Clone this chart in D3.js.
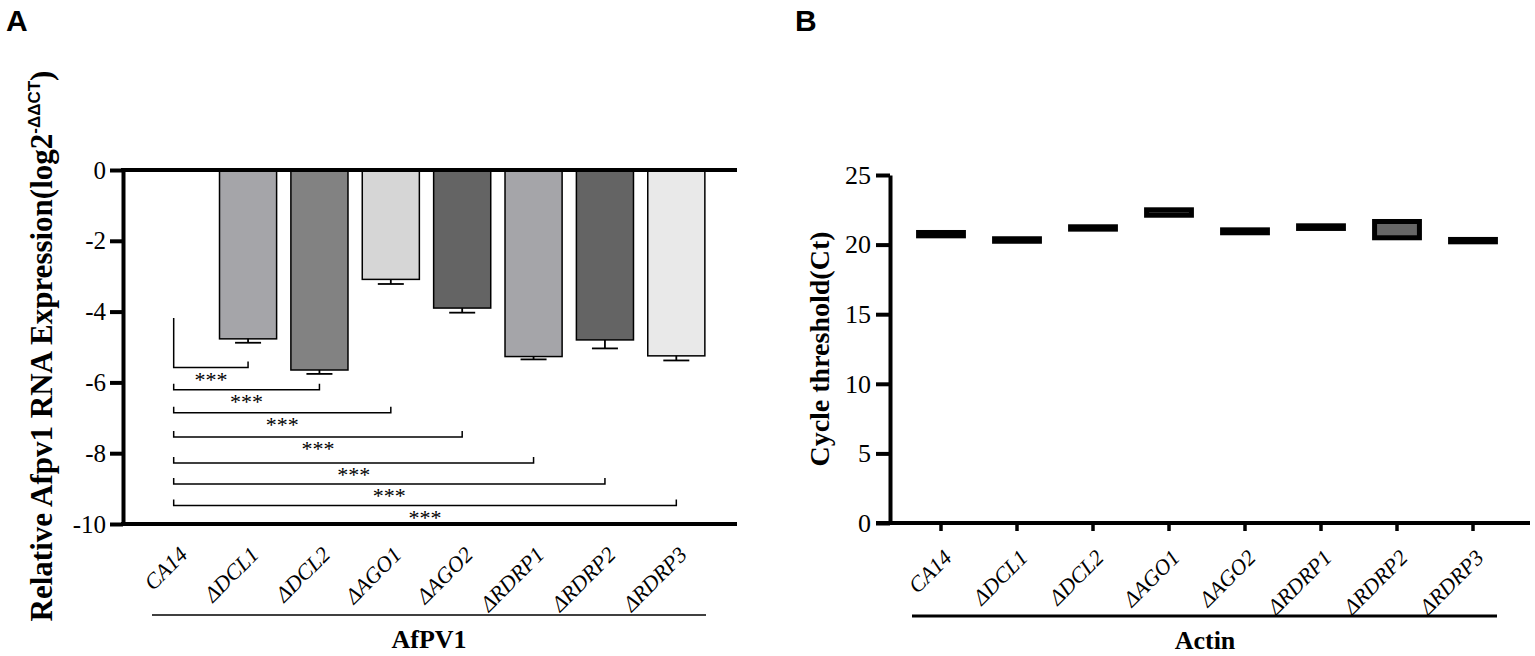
<!DOCTYPE html>
<html>
<head>
<meta charset="utf-8">
<script src="https://cdn.jsdelivr.net/npm/d3@7"></script>
<style>
    body { margin: 0; background: #fff; }
    text { font-family: "Liberation Serif", "Times New Roman", serif; fill: #000; }
</style>
</head>
<body>
<div id="chart"></div>
<script>
// Strains (shared by both panels)
var categories = ["CA14", "\u0394DCL1", "\u0394DCL2", "\u0394AGO1", "\u0394AGO2", "\u0394RDRP1", "\u0394RDRP2", "\u0394RDRP3"];

// Panel A: relative AfPV1 RNA expression (log2 -ddCT), mean and error
var afpv1Mean = [0, -4.77, -5.65, -3.09, -3.90, -5.27, -4.80, -5.25];
var afpv1Err = [0, 0.11, 0.11, 0.13, 0.13, 0.08, 0.24, 0.13];
var afpv1Ticks = [0, -2, -4, -6, -8, -10];

// Significance brackets CA14 vs each mutant
var bracketLevels = [-5.58, -6.21, -6.86, -7.54, -8.28, -8.87, -9.48];
var bracketLabels = ["***", "***", "***", "***", "***", "***", "***"];
var firstLegTop = -4.18;

// Panel B: actin cycle threshold, min to max
var actinMin = [20.63, 20.24, 21.11, 22.11, 20.85, 21.16, 20.49, 20.20];
var actinMax = [20.87, 20.42, 21.28, 22.50, 21.06, 21.35, 21.66, 20.37];
var actinTicks = [0, 5, 10, 15, 20, 25];

var barFills = ["#ffffff", "#a5a5a9", "#828282", "#d6d6d6", "#646464", "#a5a5a9", "#646464", "#e9e9e9"];
var serif = "'Liberation Serif', 'Times New Roman', serif";
var sans = "'Liberation Sans', Arial, sans-serif";

function init() {
    var svg = d3.select("#chart").append("svg")
        .attr("width", 1535)
        .attr("height", 656);

    // ---------- Panel A ----------
    var axA = 123; // y axis position
    var xA = d3.scaleBand()
        .domain(categories)
        .range([141, 712])
        .paddingInner(0.2)
        .paddingOuter(0.1);
    var yA = d3.scaleLinear()
        .domain([-10, 0])
        .range([524, 170]);

    svg.append("text")
        .attr("x", 6).attr("y", 31)
        .style("font-family", sans)
        .style("font-weight", "bold")
        .style("font-size", "30px")
        .text("A");

    // bars
    svg.selectAll("rect.barA")
        .data(afpv1Mean)
        .enter()
        .append("rect")
        .attr("class", "barA")
        .attr("x", function(d, i) { return xA(categories[i]); })
        .attr("y", yA(0))
        .attr("width", xA.bandwidth())
        .attr("height", function(d) { return yA(d) - yA(0); })
        .attr("fill", function(d, i) { return barFills[i]; })
        .attr("stroke", "#000")
        .attr("stroke-width", 1.5)
        .style("display", function(d) { return d === 0 ? "none" : null; });

    // error bars (downwards only)
    var errG = svg.append("g").attr("stroke", "#000").attr("stroke-width", 1.8);
    afpv1Mean.forEach(function(d, i) {
        if (afpv1Err[i] === 0) return;
        var cx = xA(categories[i]) + xA.bandwidth() / 2;
        errG.append("line")
            .attr("x1", cx).attr("x2", cx)
            .attr("y1", yA(d)).attr("y2", yA(d - afpv1Err[i]));
        errG.append("line")
            .attr("x1", cx - 13).attr("x2", cx + 13)
            .attr("y1", yA(d - afpv1Err[i])).attr("y2", yA(d - afpv1Err[i]));
    });

    // y axis
    var gA = svg.append("g")
        .attr("transform", "translate(" + axA + ",0)")
        .call(d3.axisLeft(yA).tickValues(afpv1Ticks).tickSize(13).tickSizeOuter(0).tickPadding(4)
            .tickFormat(function(d) { return d < 0 ? "-" + Math.abs(d) : d; }))
        .attr("font-family", serif)
        .attr("font-size", 25);
    gA.select(".domain").attr("stroke-width", 4);
    gA.selectAll(".tick line").attr("stroke-width", 4);
    gA.selectAll(".tick text").style("font-family", serif);

    // zero line and bottom line
    [0, -10].forEach(function(v) {
        svg.append("line")
            .attr("x1", axA - 2).attr("x2", 737)
            .attr("y1", yA(v)).attr("y2", yA(v))
            .attr("stroke", "#000").attr("stroke-width", 4);
    });

    // significance brackets
    var brG = svg.append("g").attr("stroke", "#000").attr("stroke-width", 1.5).attr("fill", "none");
    var x0 = xA(categories[0]) + xA.bandwidth() / 2 - 3;
    bracketLevels.forEach(function(lv, i) {
        var x1 = xA(categories[i + 1]) + xA.bandwidth() / 2;
        var top = i === 0 ? yA(firstLegTop) : yA(lv) - 6;
        brG.append("path")
            .attr("d", "M" + x0 + "," + top + "V" + yA(lv) + "H" + x1 + "V" + (yA(lv) - 6));
        svg.append("text")
            .attr("x", (x0 + x1) / 2)
            .attr("y", yA(lv) + 19)
            .attr("text-anchor", "middle")
            .style("font-size", "22px")
            .text(bracketLabels[i]);
    });

    // category labels
    svg.selectAll("text.labA")
        .data(categories)
        .enter()
        .append("text")
        .attr("class", "labA")
        .attr("text-anchor", "end")
        .attr("transform", function(d) {
            return "translate(" + (xA(d) + xA.bandwidth() / 2 + 12) + ",556) rotate(-45)";
        })
        .style("font-size", "22px")
        .style("font-style", "italic")
        .text(function(d) { return d; });

    svg.append("line")
        .attr("x1", 152).attr("x2", 706)
        .attr("y1", 615).attr("y2", 615)
        .attr("stroke", "#000").attr("stroke-width", 1.6);
    svg.append("text")
        .attr("x", 429).attr("y", 648)
        .attr("text-anchor", "middle")
        .style("font-weight", "bold")
        .style("font-size", "26px")
        .text("AfPV1");

    // y label with superscript
    var ylabA = svg.append("text")
        .attr("transform", "translate(52,346) rotate(-90)")
        .attr("text-anchor", "middle")
        .style("font-weight", "bold")
        .style("font-size", "31px");
    ylabA.append("tspan").text("Relative Afpv1 RNA Expression(log2");
    ylabA.append("tspan")
        .attr("dy", -12)
        .style("font-family", sans)
        .style("font-size", "17px")
        .text("-\u0394\u0394CT");
    ylabA.append("tspan").attr("dy", 12).text(")");

    // ---------- Panel B ----------
    var axB = 890;
    var xB = d3.scaleBand()
        .domain(categories)
        .range([903, 1511])
        .paddingInner(0.41)
        .paddingOuter(0.205);
    var yB = d3.scaleLinear()
        .domain([0, 25])
        .range([523, 175]);

    svg.append("text")
        .attr("x", 795).attr("y", 31)
        .style("font-family", sans)
        .style("font-weight", "bold")
        .style("font-size", "30px")
        .text("B");

    // floating bars min to max
    svg.selectAll("rect.barB")
        .data(actinMax)
        .enter()
        .append("rect")
        .attr("class", "barB")
        .attr("x", function(d, i) { return xB(categories[i]); })
        .attr("y", function(d) { return yB(d); })
        .attr("width", xB.bandwidth())
        .attr("height", function(d, i) { return yB(actinMin[i]) - yB(d); })
        .attr("fill", "#666")
        .attr("stroke", "#000")
        .attr("stroke-width", 5);

    var gB = svg.append("g")
        .attr("transform", "translate(" + axB + ",0)")
        .call(d3.axisLeft(yB).tickValues(actinTicks).tickSize(14).tickSizeOuter(0).tickPadding(5))
        .attr("font-family", serif)
        .attr("font-size", 26);
    gB.select(".domain").attr("stroke-width", 4);
    gB.selectAll(".tick line").attr("stroke-width", 4);
    gB.selectAll(".tick text").style("font-family", serif);

    var gBx = svg.append("g")
        .attr("transform", "translate(0," + yB(0) + ")")
        .call(d3.axisBottom(xB).tickSize(8).tickSizeOuter(0).tickFormat(""));
    gBx.select(".domain").remove();
    gBx.selectAll(".tick line").attr("stroke-width", 3.5);
    svg.append("line")
        .attr("x1", axB - 14).attr("x2", 1530)
        .attr("y1", yB(0)).attr("y2", yB(0))
        .attr("stroke", "#000").attr("stroke-width", 4);

    svg.selectAll("text.labB")
        .data(categories)
        .enter()
        .append("text")
        .attr("class", "labB")
        .attr("text-anchor", "end")
        .attr("transform", function(d) {
            return "translate(" + (xB(d) + xB.bandwidth() / 2 + 12) + ",559) rotate(-45)";
        })
        .style("font-size", "22px")
        .style("font-style", "italic")
        .text(function(d) { return d; });

    svg.append("line")
        .attr("x1", 912).attr("x2", 1497)
        .attr("y1", 616).attr("y2", 616)
        .attr("stroke", "#000").attr("stroke-width", 3);
    svg.append("text")
        .attr("x", 1205).attr("y", 649)
        .attr("text-anchor", "middle")
        .style("font-weight", "bold")
        .style("font-size", "26px")
        .text("Actin");

    svg.append("text")
        .attr("transform", "translate(829,349) rotate(-90)")
        .attr("text-anchor", "middle")
        .style("font-weight", "bold")
        .style("font-size", "28px")
        .text("Cycle threshold(Ct)");
}

window.onload = init;
</script>
</body>
</html>
